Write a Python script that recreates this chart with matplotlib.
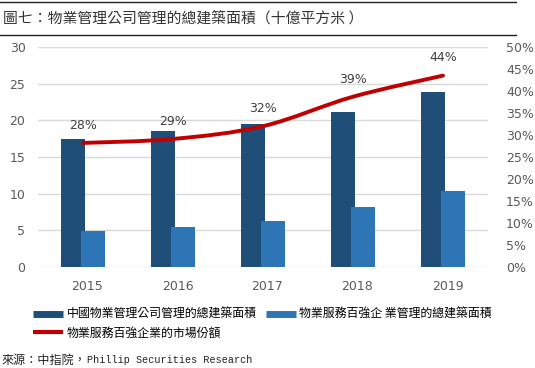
import matplotlib
matplotlib.use("Agg")
import matplotlib.pyplot as plt
from matplotlib.lines import Line2D
from matplotlib.path import Path
from matplotlib.patches import PathPatch
import numpy as np

years = ["2015", "2016", "2017", "2018", "2019"]
total_area = [17.5, 18.5, 19.5, 21.2, 23.9]
top100_area = [4.9, 5.5, 6.3, 8.2, 10.4]
share = [0.282, 0.291, 0.320, 0.387, 0.435]
share_labels = ["28%", "29%", "32%", "39%", "44%"]

title = "圖七：物業管理公司管理的總建築面積（十億平方米 ）"
leg_total = "中國物業管理公司管理的總建築面積"
leg_top100 = "物業服務百強企 業管理的總建築面積"
leg_share = "物業服務百強企業的市場份額"
source_cn = "來源：中指院，"
source_en = "Phillip Securities Research"

CJK = ["Noto Sans CJK TC", "DejaVu Sans"]
plt.rcParams['font.family'] = CJK

W, H = 535, 368
fig = plt.figure(figsize=(W / 100, H / 100), dpi=100)
fig.patch.set_facecolor("white")

def fx(px):
    return px / W

def fy(py):
    return 1 - py / H

# title rules
fig.add_artist(Line2D([0, fx(516)], [fy(2), fy(2)], color="#222222", lw=1.0))
fig.add_artist(Line2D([0, fx(516)], [fy(35), fy(35)], color="#222222", lw=1.0))
fig.text(fx(3), fy(18.5), title, fontsize=10.7, color="#333333", va="center", ha="left", family=CJK)

ax = fig.add_axes([fx(38), fy(267), fx(488) - fx(38), fy(47) - fy(267)])
x = np.arange(len(years))
bw = 0.27
off = 0.11
c_dark = "#1F4E79"
c_light = "#2E75B6"
c_red = "#C00000"
ax.bar(x - off, total_area, width=bw, color=c_dark, zorder=2)
ax.bar(x + off, top100_area, width=bw, color=c_light, zorder=3)
ax.set_xlim(-0.5, len(years) - 0.5)
ax.set_ylim(0, 30)
ax.set_yticks(range(0, 31, 5))
ax.grid(axis="y", color="#D9D9D9", lw=1.0, zorder=0)
ax.set_axisbelow(True)
for s in ax.spines.values():
    s.set_visible(False)
ax.tick_params(axis="both", length=0, labelsize=9, labelcolor="#595959")
ax.tick_params(axis="y", pad=9)
ax.tick_params(axis="x", pad=9)
ax.set_xticks(x + 0.05)
ax.set_xticklabels(years, family=["DejaVu Sans"])
for lab in ax.get_yticklabels():
    lab.set_family("DejaVu Sans")

ax2 = ax.twinx()
ax2.set_ylim(0, 0.5)
ax2.set_yticks(np.arange(0, 0.51, 0.05))
ax2.set_yticklabels([f"{int(round(v*100))}%" for v in np.arange(0, 0.51, 0.05)], family=["DejaVu Sans"])
for s in ax2.spines.values():
    s.set_visible(False)
ax2.tick_params(axis="y", length=0, labelsize=9, labelcolor="#595959", pad=13)

# smoothed line (Catmull-Rom -> cubic Bezier) through data points
pts = np.column_stack([x.astype(float), np.array(share)])
verts = [tuple(pts[0])]
codes = [Path.MOVETO]
t = 1 / 6
for i in range(len(pts) - 1):
    p0 = pts[i - 1] if i > 0 else pts[i]
    p1 = pts[i]
    p2 = pts[i + 1]
    p3 = pts[i + 2] if i + 2 < len(pts) else pts[i + 1]
    c1 = p1 + (p2 - p0) * t
    c2 = p2 - (p3 - p1) * t
    verts += [tuple(c1), tuple(c2), tuple(p2)]
    codes += [Path.CURVE4] * 3
ax2.add_patch(PathPatch(Path(verts, codes), facecolor="none", edgecolor=c_red, lw=2.8,
                        capstyle="round", zorder=5))
for xi, v, lab in zip(x, share, share_labels):
    ax2.annotate(lab, (xi, v), xytext=(0, 8), textcoords="offset points",
                 ha="center", va="bottom", fontsize=9, color="#404040", family=["DejaVu Sans"])

handles = [Line2D([], [], color=c_dark, lw=5, solid_capstyle="butt"),
           Line2D([], [], color=c_red, lw=3, solid_capstyle="butt"),
           Line2D([], [], color=c_light, lw=5, solid_capstyle="butt")]
labels = [leg_total, leg_share, leg_top100]
fig.legend(handles, labels, ncol=2, loc="upper left", bbox_to_anchor=(fx(33), fy(308)),
           frameon=False, handlelength=2.5, handletextpad=0.3,
           columnspacing=0.8, labelspacing=0.45, borderpad=0, borderaxespad=0,
           prop={"family": CJK, "size": 8.6})

t1 = fig.text(fx(2), fy(360), source_cn, fontsize=8.7, color="#222222", va="center", ha="left", family=CJK)
fig.canvas.draw()
bb = t1.get_window_extent()
fig.text(bb.x1 / W, fy(360), source_en, fontsize=7.3, color="#222222", va="center", ha="left",
         family=["Liberation Mono", "DejaVu Sans Mono"])

fig.savefig("out.png", dpi=100, facecolor="white")
